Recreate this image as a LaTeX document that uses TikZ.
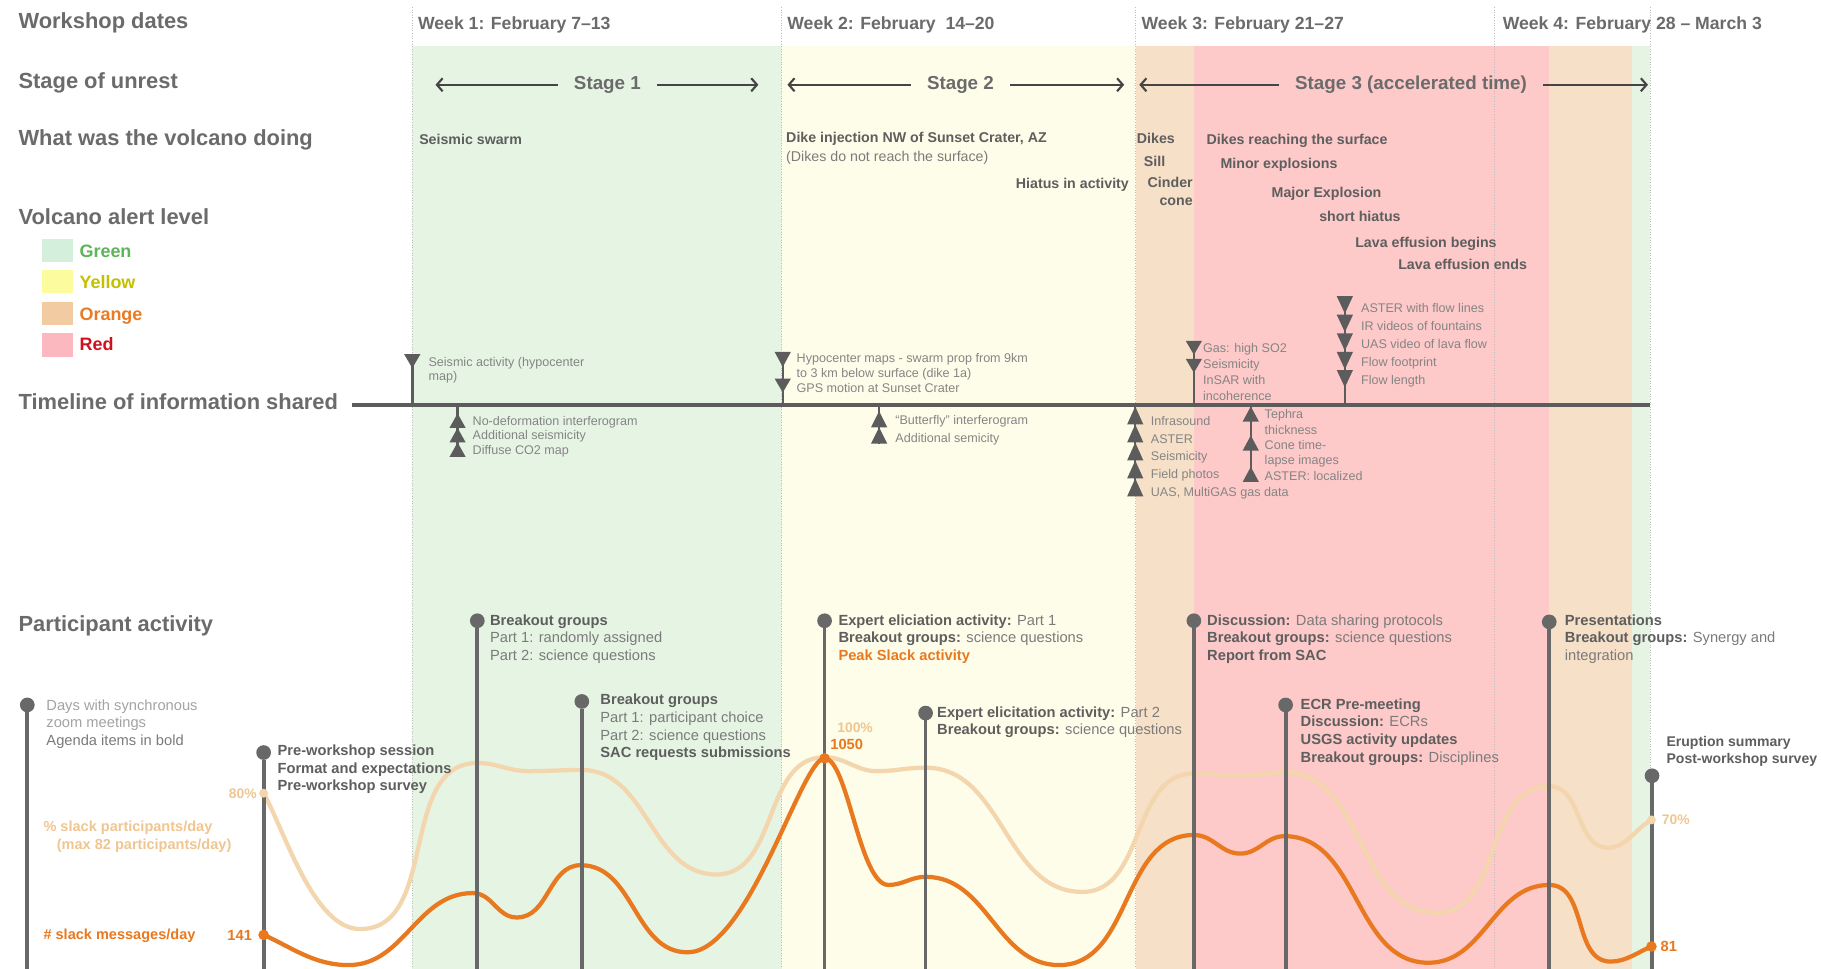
\documentclass[tikz,border=0pt]{standalone}
\usepackage{fontspec}
\setmainfont{Liberation Sans}
\usetikzlibrary{arrows.meta}
\definecolor{hd}{HTML}{6B6B6B}
\definecolor{txt}{HTML}{7B7B7B}
\definecolor{txtb}{HTML}{5E5E5E}
\definecolor{info}{HTML}{858585}
\definecolor{mk}{HTML}{5C5C5C}
\definecolor{pl}{HTML}{686868}
\definecolor{wk}{HTML}{BDBDBD}
\definecolor{bgG}{HTML}{E6F4E4}
\definecolor{bgY}{HTML}{FEFDEA}
\definecolor{bgO}{HTML}{F6E0C8}
\definecolor{bgR}{HTML}{FDC9C9}
\definecolor{lgG}{HTML}{D4EFDB}
\definecolor{lgY}{HTML}{FCFC9E}
\definecolor{lgO}{HTML}{F3CBA2}
\definecolor{lgR}{HTML}{FBB9BF}
\definecolor{tG}{HTML}{5DB55A}
\definecolor{tY}{HTML}{C4C000}
\definecolor{tO}{HTML}{EA7B22}
\definecolor{tR}{HTML}{D0101E}
\definecolor{lc}{HTML}{F3D5AE}
\definecolor{lt}{HTML}{F0C690}
\definecolor{dc}{HTML}{E9791F}
\definecolor{arr}{HTML}{454545}
\newcommand\bt[1]{{\bfseries\color{txtb}#1}}
\newcommand\mylines[6]{\foreach \ltext [count=\i from 0] in {#6}{\node[#1,anchor=mid west] (#2\i) at ({#3},{#4+\i*#5}) {\ltext};}}
\tikzset{
  head/.style={font=\bfseries\fontsize{13.4}{16}\selectfont, text=hd, anchor=mid west},
  week/.style={font=\bfseries\fontsize{10.8}{13}\selectfont, text=hd, anchor=mid west},
  stagelbl/.style={font=\bfseries\fontsize{11.5}{14}\selectfont, text=hd, inner xsep=10pt},
  stagearr/.style={draw=arr, line width=1.3pt, -{Straight Barb[length=3.5pt,width=8pt]}},
  vd/.style={font=\bfseries\fontsize{8.7}{10}\selectfont, text=txtb},
  vdr/.style={font=\fontsize{8.7}{10}\selectfont, text=txt},
  infot/.style={font=\fontsize{7.7}{9}\selectfont, text=info},
  ptxt/.style={font=\fontsize{9}{11}\selectfont, text=txt},
  ptxtb/.style={font=\bfseries\fontsize{9}{11}\selectfont, text=txtb},
  legtxt/.style={font=\bfseries\fontsize{11}{13}\selectfont, anchor=mid west},
  weekline/.style={draw=wk, line width=0.6pt, densely dotted},
  tline/.style={draw=mk, line width=2.4pt},
  stem/.style={draw=mk, line width=1.5pt},
  pline/.style={draw=pl, line width=2.3pt},
  pdot/.style={circle, fill=pl, minimum size=9pt, inner sep=0pt},
  lcurve/.style={draw=lc, line width=2.6pt},
  dcurve/.style={draw=dc, line width=2.6pt},
  ldot/.style={circle, fill=lc, minimum size=5.5pt, inner sep=0pt},
  ddot/.style={circle, fill=dc, minimum size=6.5pt, inner sep=0pt},
  ltlbl/.style={font=\bfseries\fontsize{8.5}{10}\selectfont, text=lt},
  dclbl/.style={font=\bfseries\fontsize{9}{11}\selectfont, text=dc},
  pics/tdn/.style={code={\fill[mk] (-7,0) -- (7,0) -- (0,#1) -- cycle;}},
  pics/tup/.style={code={\fill[mk] (-7,#1) -- (7,#1) -- (0,0) -- cycle;}},
}
\begin{document}
\begin{tikzpicture}[x=0.025cm, y=-0.025cm, every node/.style={inner sep=0pt, outer sep=0pt}]
\useasboundingbox (0,0) rectangle (1568,834);
\fill[white] (0,0) rectangle (1568,834);
% alert level backgrounds
\fill[bgG] (355,40) rectangle (673,834);
\fill[bgY] (673,40) rectangle (978,834);
\fill[bgO] (978,40) rectangle (1028,834);
\fill[bgR] (1028,40) rectangle (1334,834);
\fill[bgO] (1334,40) rectangle (1405,834);
\fill[bgG] (1405,40) rectangle (1421,834);
% week separators
\foreach \wx in {355,673,978,1287,1421} \draw[weekline] (\wx,6) -- (\wx,834);

% headings
\node[head] (h1) at (16,21) {Workshop dates};
\node[head] (h2) at (16,72.6) {Stage of unrest};
\node[head] (h3) at (16,121.4) {What was the volcano doing};
\node[head] (h4) at (16,190) {Volcano alert level};
\node[head] (h5) at (16,348.7) {Timeline of information shared};
\node[head] (h6) at (16,540.4) {Participant activity};

% weeks
\node[week] (w1) at (360,21.4) {Week 1: February 7–13};
\node[week] (w2) at (678,21.4) {Week 2: February\ \ 14–20};
\node[week] (w3) at (983,21.4) {Week 3: February 21–27};
\node[week] (w4) at (1294,21.4) {Week 4: February 28 – March 3};

% stages
\node[stagelbl] (s1) at (523,73) {Stage 1};
\coordinate (s1L) at (375,73); \coordinate (s1R) at (653,73);
\draw[stagearr] (s1.west) -- (s1L);
\draw[stagearr] (s1.east) -- (s1R);
\node[stagelbl] (s2) at (827,73) {Stage 2};
\coordinate (s2L) at (678,73); \coordinate (s2R) at (968,73);
\draw[stagearr] (s2.west) -- (s2L);
\draw[stagearr] (s2.east) -- (s2R);
\node[stagelbl] (s3) at (1215,73) {Stage 3 (accelerated time)};
\coordinate (s3L) at (981,73); \coordinate (s3R) at (1419,73);
\draw[stagearr] (s3.west) -- (s3L);
\draw[stagearr] (s3.east) -- (s3R);

% what was the volcano doing
\node[vd, anchor=mid west] (v1) at (361,121) {Seismic swarm};
\node[vd, anchor=mid west] (v2) at (677,119) {Dike injection NW of Sunset Crater, AZ};
\node[vdr, anchor=mid west] (v3) at (677,135) {(Dikes do not reach the surface)};
\node[vd, anchor=mid east] (v4) at (972,159) {Hiatus in activity};
\node[vd, anchor=mid west] (v5) at (979,120) {Dikes};
\node[vd, anchor=mid west] (v6) at (985,140) {Sill};
\node[vd, anchor=mid east] (v7) at (1027,158) {Cinder};
\node[vd, anchor=mid east] (v8) at (1027,173) {cone};
\node[vd, anchor=mid west] (v9) at (1039,121) {Dikes reaching the surface};
\node[vd, anchor=mid west] (v10) at (1051,141) {Minor explosions};
\node[vd, anchor=mid west] (v11) at (1095,166) {Major Explosion};
\node[vd, anchor=mid west] (v12) at (1136,187) {short hiatus};
\node[vd, anchor=mid west] (v13) at (1167,209) {Lava effusion begins};
\node[vd, anchor=mid west] (v14) at (1204,228) {Lava effusion ends};

% legend
\fill[lgG] (36,206) rectangle (62.5,226);
\fill[lgY] (36,232.5) rectangle (62.5,252.5);
\fill[lgO] (36,260) rectangle (62.5,280);
\fill[lgR] (36,287) rectangle (62.5,307);
\node[legtxt, text=tG] (lg1) at (68.5,218) {Green};
\node[legtxt, text=tY] (lg2) at (68.5,244.5) {Yellow};
\node[legtxt, text=tO] (lg3) at (68.5,272) {Orange};
\node[legtxt, text=tR] (lg4) at (68.5,298.5) {Red};

% timeline
\coordinate (tlA) at (303,348.5);
\coordinate (tlB) at (1421,348.5);
\draw[tline] (tlA) -- (tlB);

% marker 1
\coordinate (m1) at (355,348.5); \coordinate (m1t) at (355,305);
\draw[stem] (m1t) -- (m1);
\pic at (355,305) {tdn=12};
\mylines{infot}{m1l}{369}{311.6}{12.2}{Seismic activity (hypocenter, map)}
% marker 2
\coordinate (m2) at (674,348.5); \coordinate (m2t) at (674,303);
\draw[stem] (m2t) -- (m2);
\pic at (674,303) {tdn=13};
\pic at (674,326) {tdn=12};
\mylines{infot}{m2l}{686}{308.6}{12.7}{Hypocenter maps - swarm prop from 9km, to 3 km below surface (dike 1a), GPS motion at Sunset Crater}
% marker 3
\coordinate (m3) at (394,348.5); \coordinate (m3b) at (394,393);
\draw[stem] (m3) -- (m3b);
\foreach \ty in {356,368.5,381} \pic at (394,\ty) {tup=12.5};
\mylines{infot}{m3l}{407}{362.6}{12.5}{No-deformation interferogram, Additional seismicity, Diffuse CO2 map}
% marker 4
\coordinate (m4) at (757,348.5); \coordinate (m4b) at (757,382);
\draw[stem] (m4) -- (m4b);
\foreach \ty in {354,368} \pic at (757,\ty) {tup=14};
\mylines{infot}{m4l}{771}{362}{15}{“Butterfly” interferogram, Additional semicity}
% marker 5
\coordinate (m5) at (977.5,348.5); \coordinate (m5b) at (977.5,427.5);
\draw[stem] (m5) -- (m5b);
\foreach \ty in {350,365.5,381,396.5,412} \pic at (977.5,\ty) {tup=15.5};
\mylines{infot}{m5l}{991}{362.6}{15.2}{Infrasound, ASTER, Seismicity, Field photos, {UAS, MultiGAS gas data}}
% marker 6
\coordinate (m6) at (1028,348.5); \coordinate (m6t) at (1028,293.5);
\draw[stem] (m6t) -- (m6);
\foreach \ty in {293.5,309} \pic at (1028,\ty) {tdn=12};
\mylines{infot}{m6l}{1036}{300}{13.7}{Gas: high SO2, Seismicity, InSAR with, incoherence}
% marker 7
\coordinate (m7) at (1077,348.5); \coordinate (m7b) at (1077,415);
\draw[stem] (m7) -- (m7b);
\foreach \ty in {350,375,402} \pic at (1077,\ty) {tup=13};
\mylines{infot}{m7l}{1089}{357}{13}{Tephra, thickness, Cone time-, lapse images}
\node[infot, anchor=mid west] (m7l4) at (1089,410) {ASTER: localized};
% marker 8
\coordinate (m8) at (1158,348.5); \coordinate (m8t) at (1158,255);
\draw[stem] (m8t) -- (m8);
\foreach \ty in {255,271,287,303,318.6} \pic at (1158,\ty) {tdn=15};
\mylines{infot}{m8l}{1172}{265.5}{15.4}{ASTER with flow lines, IR videos of fountains, UAS video of lava flow, Flow footprint, Flow length}

% curves
\draw[lcurve] (227,683) .. controls (245,715) and (270,800) .. (310,800)
  to[out=0,in=180] (411,657) to[out=0,in=180] (455,664) to[out=0,in=180] (501,663)
  to[out=0,in=180] (617,753) to[out=0,in=180] (710,652) to[out=0,in=180] (755,664)
  to[out=0,in=180] (797,661) to[out=0,in=180] (932,768) to[out=0,in=180] (1028,666)
  to[out=0,in=180] (1068,668) to[out=0,in=180] (1106,665) to[out=0,in=180] (1237,786)
  to[out=0,in=180] (1334,677) to[out=0,in=180] (1385,730)
  .. controls (1400,730) and (1410,712) .. (1422,706);
\draw[dcurve] (227,805) .. controls (250,815) and (270,831) .. (300,831)
  to[out=0,in=180] (407,769) to[out=0,in=180] (445,790) to[out=0,in=180] (500,745)
  to[out=0,in=180] (592,820) .. controls (645,820) and (690,653) .. (710,653)
  .. controls (730,653) and (740,762) .. (765,762)
  to[out=0,in=180] (797,755) to[out=0,in=180] (912,831) to[out=0,in=180] (1028,719)
  to[out=0,in=180] (1068,735) to[out=0,in=180] (1106,720) to[out=0,in=180] (1230,829)
  to[out=0,in=180] (1334,762) to[out=0,in=180] (1387,828)
  .. controls (1400,828) and (1410,820) .. (1422,815);

% participant activity lines
\foreach \n/\px/\py in {p0/23.5/607, p1/227/648, p2/411/534.5, p3/501/604, p4/710/534.5, p5/797/614, p6/1028/534.5, p7/1107/607, p8/1334/535.5, p9/1422.5/668}{
  \coordinate (\n b) at (\px,834);
  \node[pdot] (\n) at (\px,\py) {};
  \draw[pline] (\n) -- (\n b);
}
% curve dots
\node[ldot] (ld1) at (227,683) {};
\node[ldot] (ld2) at (1422,706) {};
\node[ddot] (dd1) at (227,805) {};
\node[ddot] (dd2) at (710,653) {};
\node[ddot] (dd3) at (1422,815) {};

% curve labels
\node[ltlbl, anchor=mid east] (c80) at (221,683.5) {80\%};
\node[dclbl, anchor=mid east] (c141) at (217,806) {141};
\node[ltlbl, anchor=mid west] (c100) at (721,627) {100\%};
\node[dclbl, anchor=mid west] (c1050) at (715,641.6) {1050};
\node[ltlbl, anchor=mid west] (c70) at (1431,706) {70\%};
\node[dclbl, anchor=mid west] (c81) at (1430,816) {81};
\node[ltlbl, font=\bfseries\fontsize{8.9}{11}\selectfont, anchor=mid west] (k1) at (37.5,712) {\% slack participants/day};
\node[ltlbl, font=\bfseries\fontsize{8.9}{11}\selectfont, anchor=mid west] (k2) at (49,727.6) {(max 82 participants/day)};
\node[dclbl, font=\bfseries\fontsize{8.9}{11}\selectfont, anchor=mid west] (k3) at (37.5,805) {\# slack messages/day};

% participant texts
\node[ptxt, text=txt!70, anchor=mid west] (t00) at (40,608) {Days with synchronous};
\node[ptxt, text=txt!70, anchor=mid west] (t01) at (40,623) {zoom meetings};
\node[ptxt, anchor=mid west] (t02) at (40,638) {Agenda items in bold};
\mylines{ptxtb}{t1}{239}{647}{15}{Pre-workshop session, Format and expectations, Pre-workshop survey}
\mylines{ptxt}{t2}{422}{534.5}{15.2}{\bt{Breakout groups}, Part 1: randomly assigned, Part 2: science questions}
\mylines{ptxt}{t3}{517}{603}{15.3}{\bt{Breakout groups}, Part 1: participant choice, Part 2: science questions, \bt{SAC requests submissions}}
\mylines{ptxt}{t4}{722}{534.5}{15.2}{\bt{Expert eliciation activity:} Part 1, \bt{Breakout groups:} science questions, {\bfseries\color{dc}Peak Slack activity}}
\mylines{ptxt}{t5}{807}{614}{15}{\bt{Expert elicitation activity:} Part 2, \bt{Breakout groups:} science questions}
\mylines{ptxt}{t6}{1039.5}{534.5}{15.2}{\bt{Discussion:} Data sharing protocols, \bt{Breakout groups:} science questions, \bt{Report from SAC}}
\mylines{ptxt}{t7}{1120}{607}{15.2}{\bt{ECR Pre-meeting}, \bt{Discussion:} ECRs, \bt{USGS activity updates}, \bt{Breakout groups:} Disciplines}
\mylines{ptxt}{t8}{1347.5}{534.5}{15.2}{\bt{Presentations}, \bt{Breakout groups:} Synergy and, integration}
\mylines{ptxtb, font=\bfseries\fontsize{8.6}{11}\selectfont}{t9}{1435}{639}{14.6}{Eruption summary, Post-workshop survey}
\end{tikzpicture}
\end{document}
